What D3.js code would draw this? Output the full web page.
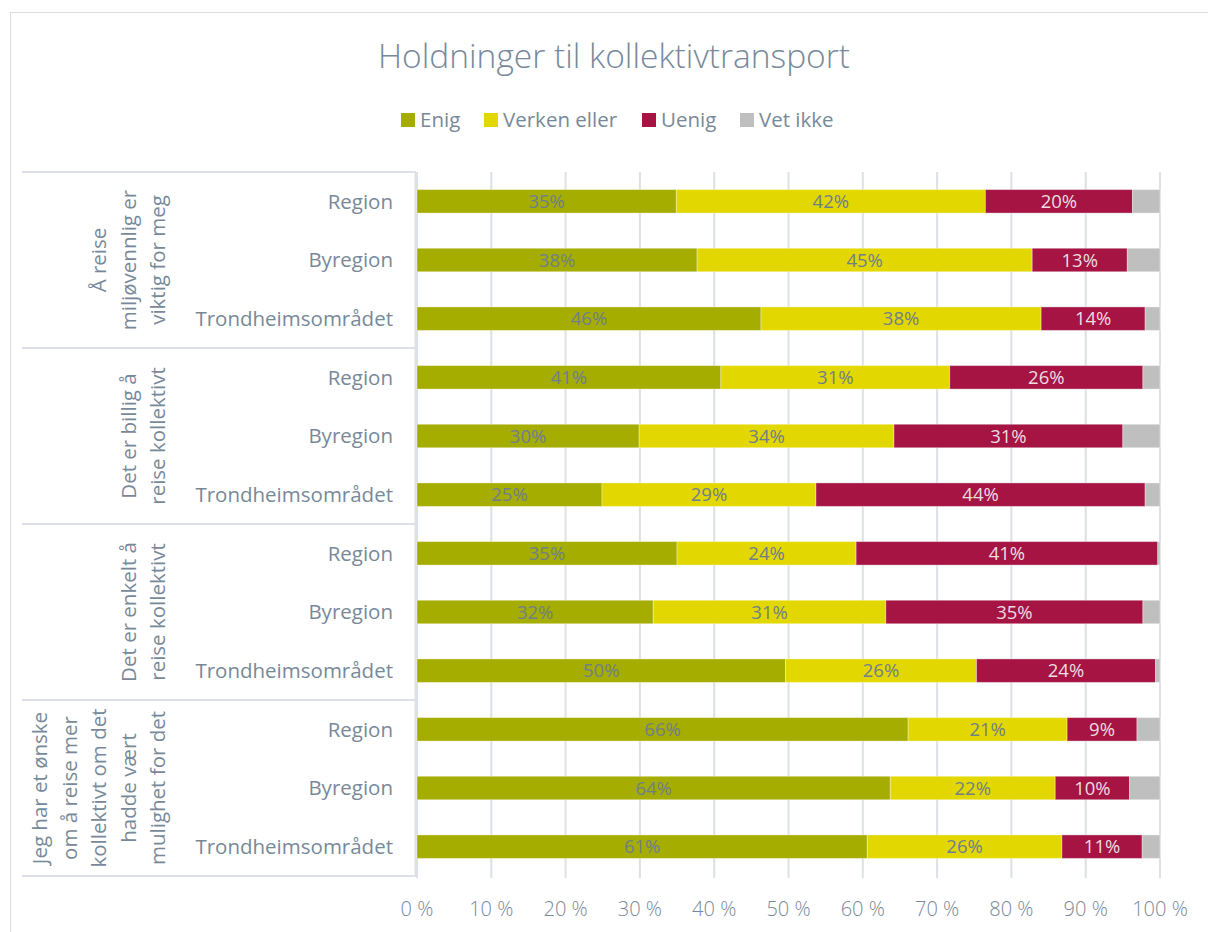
<!DOCTYPE html>
<html>
<head>
<meta charset="utf-8">
<script src="https://cdn.jsdelivr.net/npm/d3@7"></script>
<style>
  body { margin: 0; background: #fff; }
  svg text { font-family: "Open Sans", "Noto Sans", sans-serif; fill: #778999; }
</style>
</head>
<body>
<script>
// chart data (percent)
const groups = [
  ["Å reise", "miljøvennlig er", "viktig for meg"],
  ["Det er billig å", "reise kollektivt"],
  ["Det er enkelt å", "reise kollektivt"],
  ["Jeg har et ønske", "om å reise mer", "kollektivt om det", "hadde vært", "mulighet for det"]
];
const areas = ["Region", "Byregion", "Trondheimsområdet"];
const seriesNames = ["Enig", "Verken eller", "Uenig", "Vet ikke"];
const enig    = [34.9, 37.7, 46.3, 40.9, 29.9, 24.9, 35.0, 31.8, 49.6, 66.1, 63.7, 60.6];
const verken  = [41.6, 45.1, 37.7, 30.8, 34.3, 28.8, 24.1, 31.3, 25.7, 21.4, 22.2, 26.2];
const uenig   = [19.8, 12.8, 14.0, 26.0, 30.8, 44.3, 40.6, 34.6, 24.1, 9.4, 10.0, 10.8];
const vetIkke = [3.7, 4.4, 2.0, 2.3, 5.0, 2.0, 0.3, 2.3, 0.6, 3.1, 4.1, 2.4];
const xTicks = [0, 10, 20, 30, 40, 50, 60, 70, 80, 90, 100];

const colors = ["#a4ad00", "#e3d700", "#a51442", "#bfbfbf"];
const labelColors = ["#6f7e8c", "#6f7e8c", "#ecdde1", null];

const W = 1208, H = 932;
const svg = d3.select("body").append("svg").attr("width", W).attr("height", H);

// outer chart frame
svg.append("rect").attr("x", 10.5).attr("y", 12.5).attr("width", 1300).attr("height", 1000)
  .attr("fill", "#fff").attr("stroke", "#d9dee2");

svg.append("text").attr("x", 614).attr("y", 68).attr("text-anchor", "middle")
  .style("font-size", "33.5px").style("font-weight", 300)
  .text("Holdninger til kollektivtransport");

// rows
const rows = [];
groups.forEach((g, gi) => areas.forEach((a, ai) => {
  const i = gi * 3 + ai;
  rows.push({ id: i, group: gi, area: a, vals: [enig[i], verken[i], uenig[i], vetIkke[i]] });
}));

const plot = { left: 417, right: 1160, top: 172, bottom: 876 };
const x = d3.scaleLinear().domain([0, 100]).range([plot.left, plot.right]);
const y = d3.scaleBand().domain(rows.map(r => r.id)).range([plot.top, plot.bottom]).paddingInner(0.6).paddingOuter(0.3);

// grid
svg.append("g").selectAll("line").data(xTicks).join("line")
  .attr("x1", d => x(d)).attr("x2", d => x(d))
  .attr("y1", plot.top).attr("y2", plot.bottom + 2)
  .attr("stroke", "#dde1e6").attr("stroke-width", 2);

// category axis line and group separators
svg.append("line").attr("x1", 415.5).attr("x2", 415.5).attr("y1", plot.top).attr("y2", plot.bottom)
  .attr("stroke", "#dde1e6").attr("stroke-width", 2);
const groupH = (plot.bottom - plot.top) / groups.length;
svg.append("g").selectAll("line").data(d3.range(groups.length + 1)).join("line")
  .attr("x1", 22).attr("x2", 416)
  .attr("y1", d => plot.top + d * groupH).attr("y2", d => plot.top + d * groupH)
  .attr("stroke", "#dde1e6").attr("stroke-width", 2);

// stacked bars
const stack = rows.map(r => {
  let acc = 0;
  return r.vals.map((v, k) => { const s = { row: r, k, x0: acc, x1: acc + v, v }; acc += v; return s; });
}).flat();

svg.append("g").selectAll("rect").data(stack).join("rect")
  .attr("x", d => x(d.x0)).attr("width", d => x(d.x1) - x(d.x0))
  .attr("y", d => y(d.row.id)).attr("height", y.bandwidth())
  .attr("fill", d => colors[d.k])
  .attr("stroke", "rgba(255,255,255,0.35)").attr("stroke-width", 1);

svg.append("g").selectAll("text").data(stack.filter(d => d.k < 3)).join("text")
  .attr("x", d => (x(d.x0) + x(d.x1)) / 2)
  .attr("y", d => y(d.row.id) + y.bandwidth() / 2)
  .attr("dy", "0.36em").attr("text-anchor", "middle")
  .style("font-size", "18.5px").style("fill", d => labelColors[d.k])
  .text(d => Math.round(d.v) + "%");

// category labels
svg.append("g").selectAll("text").data(rows).join("text")
  .attr("x", 393).attr("y", d => y(d.id) + y.bandwidth() / 2)
  .attr("dy", "0.36em").attr("text-anchor", "end")
  .style("font-size", "20.5px")
  .text(d => d.area);

// group labels (rotated, multi-line)
groups.forEach((lines, gi) => {
  const cy = plot.top + (gi + 0.5) * groupH;
  const n = lines.length;
  lines.forEach((ln, li) => {
    const cx = 158 - (n - 1 - li) * 29.5;
    svg.append("text")
      .attr("transform", `translate(${cx},${cy}) rotate(-90)`)
      .attr("text-anchor", "middle").attr("dy", "0.36em")
      .style("font-size", "20.5px")
      .text(ln);
  });
});

// x axis labels
svg.append("g").selectAll("text").data(xTicks).join("text")
  .attr("x", d => x(d)).attr("y", 909).attr("dy", "0.36em")
  .attr("text-anchor", "middle").style("font-size", "20px").style("font-weight", 300)
  .text(d => d + " %");

// legend
const legendX = [401, 484, 642, 740];
const lg = svg.append("g").selectAll("g").data(seriesNames).join("g")
  .attr("transform", (d, i) => `translate(${legendX[i]},120)`);
lg.append("rect").attr("x", 0).attr("y", -7).attr("width", 14).attr("height", 14).attr("fill", (d, i) => colors[i]);
lg.append("text").attr("x", 19).attr("dy", "0.36em").style("font-size", "20.5px").text(d => d);
</script>
</body>
</html>
